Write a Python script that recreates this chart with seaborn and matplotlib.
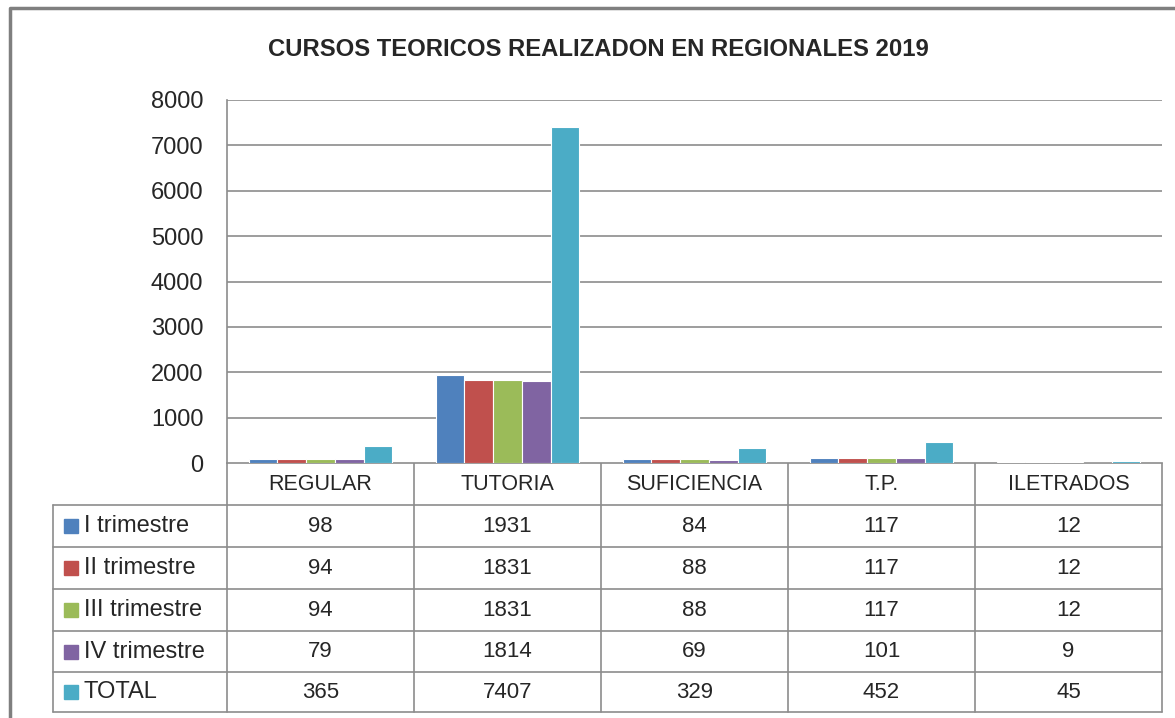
import pandas as pd
import matplotlib
matplotlib.use("Agg")
import matplotlib.pyplot as plt
import seaborn as sns

categorias = ["REGULAR", "TUTORIA", "SUFICIENCIA", "T.P.", "ILETRADOS"]
series = ["I trimestre", "II trimestre", "III trimestre", "IV trimestre", "TOTAL"]
i_trim = [98, 1931, 84, 117, 12]
ii_trim = [94, 1831, 88, 117, 12]
iii_trim = [94, 1831, 88, 117, 12]
iv_trim = [79, 1814, 69, 101, 9]
total = [365, 7407, 329, 452, 45]
colores = ["#4F81BD", "#C0504D", "#9BBB59", "#8064A2", "#4BACC6"]
titulo = "CURSOS TEORICOS REALIZADON EN REGIONALES 2019"

valores = [i_trim, ii_trim, iii_trim, iv_trim, total]
frames = []
for nombre, vals in zip(series, valores):
    frames.append(pd.DataFrame({"categoria": categorias, "valor": vals, "serie": nombre}))
data = pd.concat(frames, ignore_index=True)

sns.set_style("white")
plt.rcParams["font.family"] = ["Liberation Sans", "DejaVu Sans"]
GRIS = "#8c8c8c"

W, H = 1175, 718
fig = plt.figure(figsize=(W / 100, H / 100), dpi=100)

# plot area in pixel coordinates
px_l, px_r, px_t, px_b = 227, 1162, 100, 463
ax = fig.add_axes([px_l / W, 1 - px_b / H, (px_r - px_l) / W, (px_b - px_t) / H])
sns.barplot(
    ax=ax,
    data=data,
    x="categoria",
    y="valor",
    hue="serie",
    palette=colores,
    saturation=1,
    width=0.77,
    edgecolor="white",
    linewidth=0.8,
    legend=False,
)
ax.set_ylim(0, 8000)
ax.set_xlim(-0.5, len(categorias) - 0.5)
ax.set_yticks(range(0, 8001, 1000))
ax.yaxis.grid(True, color=GRIS, linewidth=1.2)
ax.set_axisbelow(True)
ax.set(xlabel="", ylabel="")
ax.set_xticks([])
ax.tick_params(axis="y", length=0, pad=17, labelsize=17, left=False)
for s in ["top", "right", "bottom"]:
    ax.spines[s].set_visible(False)
ax.spines["left"].set_color(GRIS)
ax.spines["left"].set_linewidth(1.2)

# overlay for title, table and border
ov = fig.add_axes([0, 0, 1, 1], zorder=-1)
ov.set_xlim(0, W)
ov.set_ylim(H, 0)
ov.axis("off")
ov.patch.set_alpha(0)

# outer chart border
ov.plot([10, 10, W + 5], [H + 5, 8, 8], color="#7f7f7f", lw=2.5, clip_on=False)

ov.text(598, 50, titulo, ha="center", va="center", fontsize=17.2, fontweight="bold")

# data table
col_w = (px_r - px_l) / len(categorias)
row_y = [505, 547, 589, 631, 672, 712]
tab_l = 53
ov.plot([px_l, px_r], [px_b, px_b], color=GRIS, lw=1.2)
for y in row_y:
    ov.plot([tab_l, px_r], [y, y], color=GRIS, lw=1.2)
ov.plot([tab_l, tab_l], [row_y[0], row_y[-1]], color=GRIS, lw=1.2)
for i in range(len(categorias) + 1):
    x = px_l + i * col_w
    ov.plot([x, x], [px_b, row_y[-1]], color=GRIS, lw=1.2)

for i, cat in enumerate(categorias):
    ov.text(px_l + (i + 0.5) * col_w, (px_b + row_y[0]) / 2 + 1, cat,
            ha="center", va="center", fontsize=15.5)

for r, (nombre, vals, c) in enumerate(zip(series, valores, colores)):
    yc = (row_y[r] + row_y[r + 1]) / 2
    ov.add_patch(plt.Rectangle((64, yc - 7), 14, 14, color=c))
    ov.text(84, yc, nombre, ha="left", va="center", fontsize=17)
    for i, v in enumerate(vals):
        ov.text(px_l + (i + 0.5) * col_w, yc, str(v), ha="center", va="center", fontsize=16)

fig.savefig("out.png", dpi=100)
